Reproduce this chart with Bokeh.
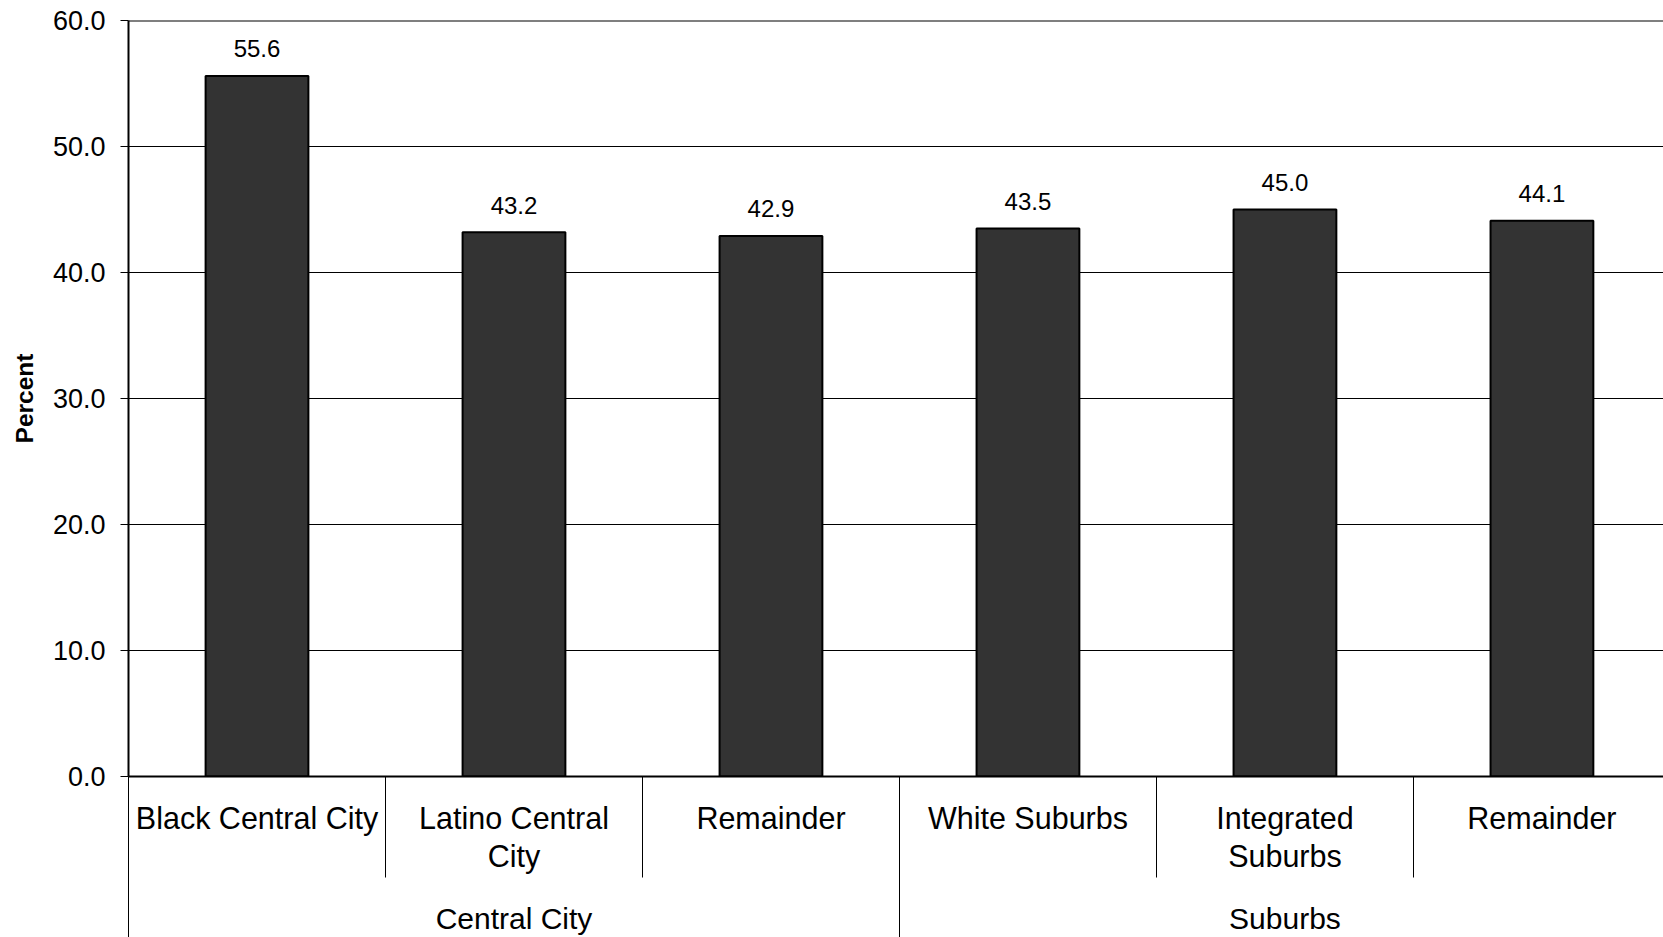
from bokeh.plotting import figure
from bokeh.models import (Range1d, FixedTicker, LinearAxis, Span, ColumnDataSource,
                          NumeralTickFormatter)
from bokeh.embed import file_html
from bokeh.resources import INLINE
from bokeh.core.properties import value

# ---- data ----
categories = ["Black Central City", "Latino Central\nCity", "Remainder",
              "White Suburbs", "Integrated\nSuburbs", "Remainder"]
groups = ["Central City", "Suburbs"]
group_sizes = [3, 3]
values = [55.6, 43.2, 42.9, 43.5, 45.0, 44.1]
y_ticks = [0, 10, 20, 30, 40, 50, 60]
y_label = "Percent"

FONT = "Liberation Sans"

n = len(categories)
xs = [i + 0.5 for i in range(n)]
bounds = list(range(n + 1))

group_centers, group_bounds, start = [], [0], 0
for s in group_sizes:
    group_centers.append(start + s / 2)
    start += s
    group_bounds.append(start)

p = figure(width=1663, height=937, output_backend="svg", toolbar_location=None,
           x_range=Range1d(0, 5.973), y_range=Range1d(0, 60),
           x_axis_location=None,
           min_border_left=128, min_border_right=0, min_border_top=20,
           min_border_bottom=161)
p.outline_line_color = None
p.background_fill_color = "white"
p.border_fill_color = "white"
p.xgrid.visible = False

yt = FixedTicker(ticks=y_ticks, minor_ticks=[])
p.ygrid.ticker = yt
p.ygrid.grid_line_color = "black"
p.ygrid.grid_line_width = 1

ya = p.yaxis[0]
ya.ticker = yt
ya.formatter = NumeralTickFormatter(format="0.0")
ya.axis_line_width = 2
ya.axis_line_color = "black"
ya.major_tick_out = 8
ya.major_tick_in = 0
ya.major_tick_line_color = "black"
ya.minor_tick_line_color = None
ya.major_label_standoff = 15
ya.major_label_text_font = FONT
ya.major_label_text_font_size = "27px"
ya.major_label_text_color = "black"
ya.axis_label = y_label
ya.axis_label_text_font = FONT
ya.axis_label_text_font_style = "bold"
ya.axis_label_text_font_size = "24.5px"
ya.axis_label_text_color = "black"
ya.axis_label_standoff = 12

ax1 = LinearAxis(
    ticker=FixedTicker(ticks=xs, minor_ticks=bounds),
    major_label_overrides={x: c for x, c in zip(xs, categories)},
    major_tick_out=0, major_tick_in=0, major_tick_line_color=None,
    minor_tick_out=101, minor_tick_in=0, minor_tick_line_color="black",
    minor_tick_line_width=1,
    axis_line_width=2, axis_line_color="black",
    major_label_standoff=-77,
    major_label_text_font=FONT, major_label_text_font_size="30.5px",
    major_label_text_color="black", major_label_text_line_height=1.13,
)
p.add_layout(ax1, "below")

ax2 = LinearAxis(
    ticker=FixedTicker(ticks=group_centers, minor_ticks=group_bounds),
    major_label_overrides={x: g for x, g in zip(group_centers, groups)},
    major_tick_out=0, major_tick_in=0, major_tick_line_color=None,
    minor_tick_out=65, minor_tick_in=97, minor_tick_line_color="black",
    minor_tick_line_width=1,
    axis_line_color=None,
    major_label_standoff=-39,
    major_label_text_font=FONT, major_label_text_font_size="30px",
    major_label_text_color="black", major_label_text_line_height=1.0,
)
p.add_layout(ax2, "below")

src = ColumnDataSource(dict(x=xs, top=values, label=[f"{v:.1f}" for v in values]))
p.vbar(x="x", top="top", width=0.4, source=src, fill_color="#333333",
       line_color="black", line_width=2)
p.text(x="x", y="top", text="label", source=src, text_align="center",
       text_baseline="alphabetic", y_offset=-27, text_font=value(FONT),
       text_font_size="24px", text_color="black")

p.add_layout(Span(location=60, dimension="width", line_color="black", line_width=2))

open("out.html", "w").write(file_html(p, INLINE))
